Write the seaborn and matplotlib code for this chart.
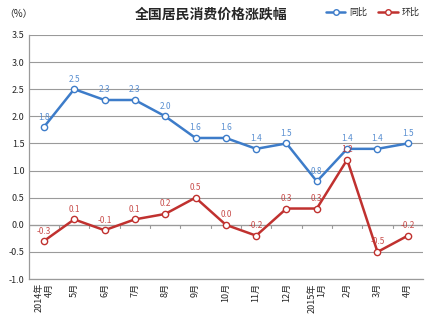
import matplotlib
matplotlib.use("Agg")
import matplotlib.pyplot as plt
import seaborn as sns
import pandas as pd

months = ["2014年\n4月", "5月", "6月", "7月", "8月", "9月", "10月", "11月", "12月",
          "2015年\n1月", "2月", "3月", "4月"]
yoy = [1.8, 2.5, 2.3, 2.3, 2.0, 1.6, 1.6, 1.4, 1.5, 0.8, 1.4, 1.4, 1.5]
mom = [-0.3, 0.1, -0.1, 0.1, 0.2, 0.5, 0.0, -0.2, 0.3, 0.3, 1.2, -0.5, -0.2]
yticks = [-1.0, -0.5, 0.0, 0.5, 1.0, 1.5, 2.0, 2.5, 3.0, 3.5]

sns.set_style("white")
plt.rcParams["font.family"] = ["Noto Sans CJK SC", "DejaVu Sans"]

blue = "#3d7cc9"
red = "#c0312f"

df = pd.DataFrame({"月份": months, "同比": yoy, "环比": mom})
long = df.melt(id_vars="月份", var_name="指标", value_name="值")

fig = plt.figure(figsize=(4.3, 3.23), dpi=100)
ax = fig.add_axes([0.0667, 0.136, 0.917, 0.756])

sns.lineplot(data=long, x="月份", y="值", hue="指标", palette={"同比": blue, "环比": red},
             marker="o", markersize=4.5, markerfacecolor="white", markeredgewidth=1.0,
             linewidth=1.8, ax=ax, sort=False)
for ln in ax.lines:
    ln.set_markeredgecolor(ln.get_color())
    ln.set_markerfacecolor("white")

for series, color in ((yoy, blue), (mom, red)):
    for i, v in enumerate(series):
        ax.annotate(f"{v:.1f}", (i, v), xytext=(0, 4), textcoords="offset points",
                    ha="center", va="bottom", fontsize=6, color=color, alpha=0.85)

ax.set_xlim(-0.5, len(months) - 0.5)
ax.set_ylim(-1.0, 3.5)
ax.set_yticks(yticks)
ax.set_yticklabels([f"{t:.1f}" for t in yticks], fontsize=6.5)
ax.yaxis.grid(True, color="#9a9a9a", linewidth=0.8)
ax.set_axisbelow(True)
ax.axhline(0, color="#9a9a9a", linewidth=0.9, zorder=0.5)
for b in range(len(months) + 1):
    ax.plot([b - 0.5, b - 0.5], [0, -0.06], color="#9a9a9a", linewidth=0.8, zorder=0.5)

ax.set_xticks(range(len(months)))
ax.set_xticklabels(months, rotation=90, fontsize=6.5, ha="center", va="top",
                   multialignment="right")
ax.tick_params(axis="both", length=0, pad=3)
ax.set_xlabel("")
ax.set_ylabel("")
for s in ["top", "right"]:
    ax.spines[s].set_visible(False)
for s in ["left", "bottom"]:
    ax.spines[s].set_color("#9a9a9a")
    ax.spines[s].set_linewidth(0.9)

leg = ax.legend(loc="upper right", bbox_to_anchor=(1.0, 1.125), ncol=2, frameon=False,
                fontsize=6.5, handlelength=2.2, columnspacing=1.2, handletextpad=0.4,
                borderaxespad=0)
for h in leg.get_lines():
    h.set_markersize(4)
    h.set_markeredgecolor(h.get_color())
    h.set_markerfacecolor("white")

fig.text(0.49, 0.955, "全国居民消费价格涨跌幅", ha="center", va="center",
         fontsize=10, fontweight="bold")
fig.text(0.01, 0.955, "（%）", ha="left", va="center", fontsize=7)

fig.savefig("out.png", dpi=100, facecolor="white")
